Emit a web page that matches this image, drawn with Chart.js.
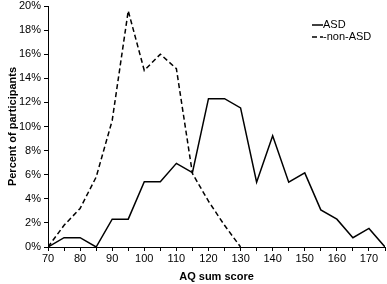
<!DOCTYPE html>
<html lang="en">
<head>
  <meta charset="UTF-8">
  <title>AQ sum score</title>
  <script src="https://cdn.jsdelivr.net/npm/chart.js"></script>
  <style>
    html, body { margin: 0; padding: 0; background: #fff; }
    .box { width: 387px; height: 284px; }
  </style>
</head>
<body>
  <div class="box">
    <canvas id="myChart" width="387" height="284"></canvas>
  </div>
<script>
  // AQ sum score categories (x values)
  const scores = [70, 75, 80, 85, 90, 95, 100, 105, 110, 115, 120, 125, 130, 135, 140, 145, 150, 155, 160, 165, 170, 175];
  // percent of participants, ASD group
  const asd = [0, 0.77, 0.77, 0, 2.31, 2.31, 5.42, 5.42, 6.94, 6.17, 12.31, 12.31, 11.54, 5.38, 9.23, 5.38, 6.15, 3.08, 2.31, 0.77, 1.54, 0];
  // percent of participants, non-ASD group (70..130)
  const nonAsd = [0, 1.8, 3.2, 5.8, 10.5, 19.6, 14.65, 16.0, 14.8, 6.1, 3.8, 1.8, 0];
  const yTicks = [0, 2, 4, 6, 8, 10, 12, 14, 16, 18, 20];

  function pontos(valores) {
    return valores.map(function (v, i) { return { x: scores[i], y: v }; });
  }

  const legendaPlugin = {
    id: 'legenda',
    afterDraw(chart) {
      const ctx = chart.ctx;
      ctx.save();
      ctx.font = '11px "Liberation Sans", Arial, sans-serif';
      ctx.fillStyle = '#000';
      ctx.textBaseline = 'middle';
      chart.data.datasets.forEach(function (ds, i) {
        const y = 25 + i * 12;
        ctx.beginPath();
        ctx.strokeStyle = '#000';
        ctx.lineWidth = 1.5;
        ctx.setLineDash(ds.borderDash || []);
        ctx.moveTo(312, y);
        ctx.lineTo(323, y);
        ctx.stroke();
        ctx.setLineDash([]);
        ctx.fillText(ds.label, 323, y);
      });
      ctx.restore();
    }
  };

  const fonte = { family: '"Liberation Sans", Arial, sans-serif', size: 11 };

  const config = {
    type: 'line',
    data: {
      datasets: [
        {
          label: 'ASD',
          data: pontos(asd),
          borderColor: '#000',
          borderWidth: 1.5,
          pointRadius: 0,
          tension: 0
        },
        {
          label: '-non-ASD',
          data: pontos(nonAsd),
          borderColor: '#000',
          borderWidth: 1.5,
          borderDash: [5, 3],
          pointRadius: 0,
          tension: 0
        }
      ]
    },
    options: {
      responsive: false,
      animation: false,
      layout: { padding: { top: 6, right: 2, left: 0, bottom: 0 } },
      plugins: {
        legend: { display: false },
        tooltip: { enabled: false }
      },
      scales: {
        x: {
          type: 'linear',
          min: 70,
          max: 175,
          afterBuildTicks: function (s) {
            s.ticks = scores.map(function (v) { return { value: v }; });
          },
          afterFit: function (s) {
            s.height = 37;
            s.paddingLeft = 0;
            s.paddingRight = 0;
          },
          ticks: {
            color: '#000',
            font: fonte,
            maxRotation: 0,
            autoSkip: false,
            padding: 1,
            callback: function (v) { return v % 10 === 0 && v < 175 ? String(v) : ''; }
          },
          grid: { display: true, drawOnChartArea: false, drawTicks: true, tickLength: 4, color: '#000' },
          border: { display: true, color: '#000', width: 1 },
          title: {
            display: true,
            text: 'AQ sum score',
            color: '#000',
            font: { family: fonte.family, size: 11, weight: 'bold' },
            padding: { top: 6, bottom: 0 }
          }
        },
        y: {
          min: 0,
          max: 20,
          afterBuildTicks: function (s) {
            s.ticks = yTicks.map(function (v) { return { value: v }; });
          },
          afterFit: function (s) {
            s.width = 48;
            s.paddingTop = 0;
            s.paddingBottom = 0;
          },
          ticks: {
            color: '#000',
            font: fonte,
            padding: 3,
            callback: function (v) { return v + '%'; }
          },
          grid: { display: true, drawOnChartArea: false, drawTicks: true, tickLength: 4, color: '#000' },
          border: { display: true, color: '#000', width: 1 },
          title: {
            display: true,
            text: 'Percent of participants',
            color: '#000',
            font: { family: fonte.family, size: 11, weight: 'bold' },
            padding: { top: 6, bottom: 0 }
          }
        }
      }
    },
    plugins: [legendaPlugin]
  };

  new Chart(document.getElementById('myChart'), config);
</script>
</body>
</html>
